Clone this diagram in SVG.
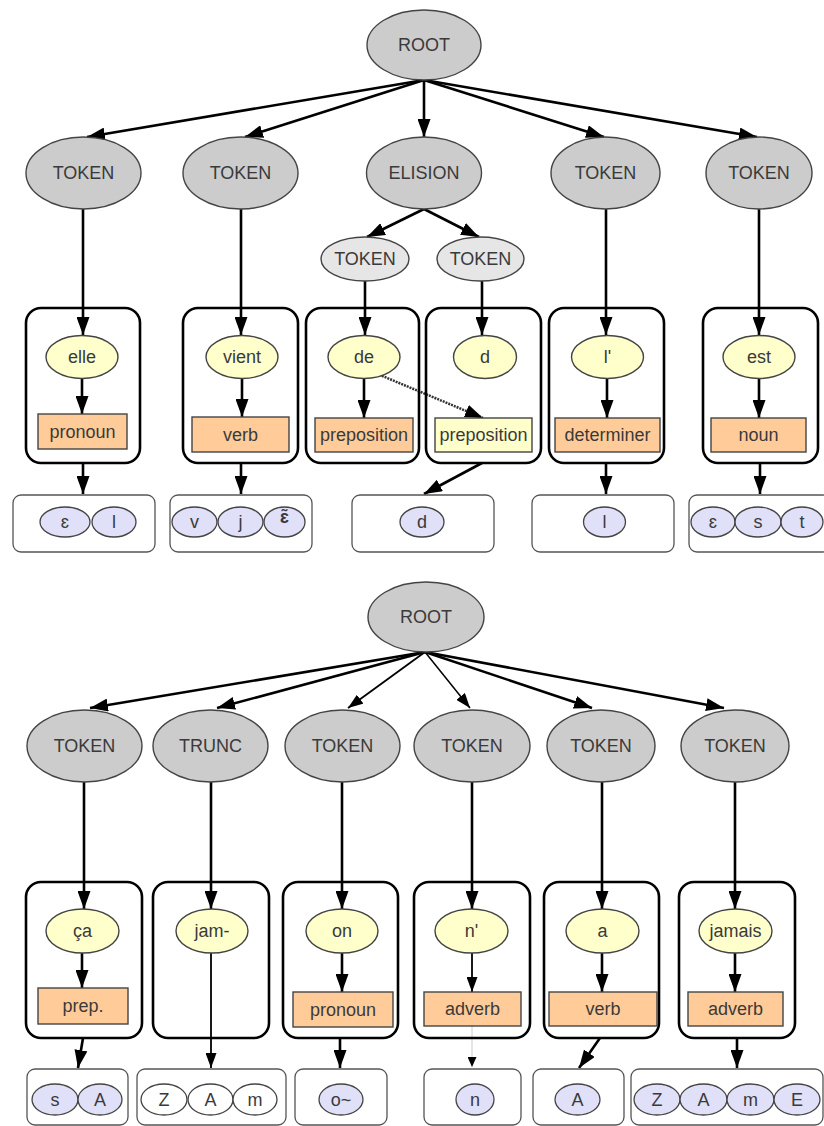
<svg xmlns="http://www.w3.org/2000/svg" width="824" height="1126" viewBox="0 0 824 1126">
<style>
text{font-family:"Liberation Sans",Arial,sans-serif;font-size:18px;fill:#3a3a3a;text-anchor:middle}
.g{fill:#cccccc;stroke:#444;stroke-width:1.4}
.sub{fill:#e6e6e6;stroke:#444;stroke-width:1.4}
.y{fill:#ffffcc;stroke:#444;stroke-width:1.4}
.o{fill:#ffcc99;stroke:#444;stroke-width:1.4}
.py{fill:#ffffcc;stroke:#444;stroke-width:1.4}
.box{fill:none;stroke:#000;stroke-width:2.6}
.pbox{fill:#fff;stroke:#555;stroke-width:1.3}
.ph{fill:#e0e0f8;stroke:#444;stroke-width:1.3}
.phw{fill:#fff;stroke:#444;stroke-width:1.3}
.e{fill:none;stroke:#000;stroke-width:2.6;marker-end:url(#ah)}
.e2{fill:none;stroke:#000;stroke-width:1.8;marker-end:url(#ahm)}
.dot{fill:none;stroke:#333;stroke-width:2.5;stroke-dasharray:2 1;marker-end:url(#ah)}
.faint{fill:none;stroke:#ccc;stroke-width:1;marker-end:url(#ahs)}
</style>
<defs>
<marker id="ah" markerUnits="userSpaceOnUse" markerWidth="18" markerHeight="13" refX="18" refY="6.5" orient="auto"><path d="M0,0 L18,6.5 L0,13 z" fill="#000"/></marker>
<marker id="ahm" markerUnits="userSpaceOnUse" markerWidth="15" markerHeight="11" refX="15" refY="5.5" orient="auto"><path d="M0,0 L15,5.5 L0,11 z" fill="#000"/></marker>
<marker id="ahs" markerUnits="userSpaceOnUse" markerWidth="10" markerHeight="9" refX="10" refY="4.5" orient="auto"><path d="M0,0 L10,4.5 L0,9 z" fill="#000"/></marker>
</defs>

<g id="connectors">
<path class="e" d="M424,80 L87,137"/>
<path class="e" d="M424,80 L245,137"/>
<path class="e" d="M424,80 L424,137"/>
<path class="e" d="M424,80 L604,137"/>
<path class="e" d="M424,80 L757,137"/>
<path class="e" d="M424,209 L367,237"/>
<path class="e" d="M424,209 L479,237"/>
<path class="e" d="M83,209 L83,335"/>
<path class="e" d="M241,209 L241,335"/>
<path class="e" d="M365,281 L365,335"/>
<path class="e" d="M482,281 L482,335"/>
<path class="e" d="M606,209 L606,335"/>
<path class="e" d="M759,209 L759,335"/>
<path class="e" d="M82,378 L82,414"/>
<path class="e" d="M242,378 L242,417"/>
<path class="e" d="M364,378 L364,418"/>
<path class="e" d="M607,378 L607,418"/>
<path class="e" d="M759,378 L759,418"/>
<path class="dot" d="M368,370 L483,418"/>
<path class="e" d="M83,463 L83,494"/>
<path class="e" d="M241,463 L241,494"/>
<path class="e" d="M482,463 L424,494"/>
<path class="e" d="M606,463 L606,494"/>
<path class="e" d="M760,463 L760,494"/>

<path class="e" d="M425,652 L90,708"/>
<path class="e" d="M425,652 L217,708"/>
<path class="e2" d="M425,652 L348,708"/>
<path class="e2" d="M425,652 L470,708" style="stroke-width:1.5"/>
<path class="e" d="M425,652 L592,708"/>
<path class="e" d="M425,652 L724,708"/>
<path class="e" d="M84,782 L84,909"/>
<path class="e" d="M211,782 L211,909"/>
<path class="e" d="M342,782 L342,909"/>
<path class="e" d="M472,782 L472,909"/>
<path class="e" d="M602,782 L602,909"/>
<path class="e" d="M735,782 L735,909"/>
<path class="e" d="M82,953 L82,988"/>
<path class="e2" d="M211,953 L211,1068"/>
<path class="e" d="M342,953 L342,992"/>
<path class="e2" d="M472,953 L472,992"/>
<path class="e" d="M602,953 L602,992"/>
<path class="e" d="M735,953 L735,992"/>
<path class="e" d="M83,1038 L78,1068"/>
<path class="e" d="M340,1038 L340,1068"/>
<path class="faint" d="M472,1026 L472,1067"/>
<path class="e" d="M600,1038 L579,1068"/>
<path class="e" d="M737,1038 L737,1068"/>
</g>

<!-- Top tree -->
<g id="root1"><ellipse class="g" cx="424" cy="45" rx="57" ry="35"/><text x="424" y="51">ROOT</text></g>
<g id="tok1"><ellipse class="g" cx="83.5" cy="173" rx="57.5" ry="36"/><text x="83.5" y="179">TOKEN</text></g>
<g id="tok2"><ellipse class="g" cx="240.5" cy="173" rx="57.5" ry="36"/><text x="240.5" y="179">TOKEN</text></g>
<g id="elision"><ellipse class="g" cx="424" cy="173" rx="57.5" ry="36"/><text x="424" y="179">ELISION</text></g>
<g id="tok4"><ellipse class="g" cx="605.5" cy="173" rx="54.5" ry="36"/><text x="605.5" y="179">TOKEN</text></g>
<g id="tok5"><ellipse class="g" cx="759" cy="173" rx="53" ry="36"/><text x="759" y="179">TOKEN</text></g>
<g id="sub1"><ellipse class="sub" cx="365" cy="259" rx="44" ry="22"/><text x="365" y="265">TOKEN</text></g>
<g id="sub2"><ellipse class="sub" cx="480.5" cy="259" rx="43.5" ry="22"/><text x="480.5" y="265">TOKEN</text></g>

<g id="w-elle">
<rect class="box" x="26" y="308" width="114" height="155" rx="15"/>
<ellipse class="y" cx="82" cy="357" rx="36" ry="21.5"/><text x="82" y="363">elle</text>
<rect class="o" x="38" y="414" width="89" height="35"/><text x="82.5" y="438">pronoun</text>
</g>
<g id="w-vient">
<rect class="box" x="183" y="308" width="115" height="155" rx="15"/>
<ellipse class="y" cx="242" cy="357" rx="36" ry="21.5"/><text x="242" y="363">vient</text>
<rect class="o" x="192" y="417" width="97" height="35"/><text x="240.5" y="441">verb</text>
</g>
<g id="w-de">
<rect class="box" x="306" y="308" width="113" height="155" rx="15"/>
<ellipse class="y" cx="364" cy="357" rx="36" ry="21.5"/><text x="364" y="363">de</text>
<rect class="o" x="315" y="418" width="98" height="34"/><text x="364" y="441">preposition</text>
</g>
<g id="w-d">
<rect class="box" x="426" y="308" width="115" height="155" rx="15"/>
<ellipse class="y" cx="485" cy="357" rx="31.5" ry="21.5"/><text x="485" y="363">d</text>
<rect class="py" x="435" y="418" width="97" height="34"/><text x="483.5" y="441">preposition</text>
</g>
<g id="w-l">
<rect class="box" x="549" y="308" width="115" height="155" rx="15"/>
<ellipse class="y" cx="607.5" cy="357" rx="36" ry="21.5"/><text x="607.5" y="363">l'</text>
<rect class="o" x="555" y="418" width="105" height="34"/><text x="607.5" y="441">determiner</text>
</g>
<g id="w-est">
<rect class="box" x="703" y="308" width="115" height="155" rx="15"/>
<ellipse class="y" cx="759" cy="357" rx="36" ry="21.5"/><text x="759" y="363">est</text>
<rect class="o" x="711" y="418" width="95" height="34"/><text x="758.5" y="441">noun</text>
</g>

<g id="p-elle">
<rect class="pbox" x="13" y="495" width="142" height="57" rx="8"/>
<ellipse class="ph" cx="65" cy="522" rx="25" ry="15"/><text x="65" y="528">ɛ</text>
<ellipse class="ph" cx="114" cy="522" rx="22" ry="15"/><text x="114" y="528">l</text>
</g>
<g id="p-vient">
<rect class="pbox" x="170" y="495" width="142" height="57" rx="8"/>
<ellipse class="ph" cx="194.5" cy="522" rx="22.5" ry="15"/><text x="194.5" y="528">v</text>
<ellipse class="ph" cx="240.5" cy="522" rx="22.5" ry="15"/><text x="240.5" y="528">j</text>
<ellipse class="ph" cx="284.5" cy="522" rx="20.5" ry="15"/><text x="284.5" y="523" style="font-weight:bold">ɛ̃</text>
</g>
<g id="p-d">
<rect class="pbox" x="352" y="495" width="142" height="57" rx="8"/>
<ellipse class="ph" cx="422" cy="522" rx="22" ry="15"/><text x="422" y="528">d</text>
</g>
<g id="p-l">
<rect class="pbox" x="532" y="495" width="142" height="57" rx="8"/>
<ellipse class="ph" cx="604.5" cy="522" rx="21" ry="15"/><text x="604.5" y="528">l</text>
</g>
<g id="p-est">
<rect class="pbox" x="689" y="495" width="142" height="57" rx="8"/>
<ellipse class="ph" cx="713" cy="522" rx="22" ry="15"/><text x="713" y="528">ɛ</text>
<ellipse class="ph" cx="758" cy="522" rx="23" ry="15"/><text x="758" y="528">s</text>
<ellipse class="ph" cx="802" cy="522" rx="21" ry="15"/><text x="802" y="528">t</text>
</g>

<!-- Bottom tree -->
<g id="root2"><ellipse class="g" cx="426" cy="617" rx="58" ry="35"/><text x="426" y="623">ROOT</text></g>
<g id="b-tok1"><ellipse class="g" cx="84.5" cy="746" rx="57.5" ry="36"/><text x="84.5" y="752">TOKEN</text></g>
<g id="b-trunc"><ellipse class="g" cx="210.5" cy="746" rx="57.5" ry="36"/><text x="210.5" y="752">TRUNC</text></g>
<g id="b-tok3"><ellipse class="g" cx="342.5" cy="746" rx="57.5" ry="36"/><text x="342.5" y="752">TOKEN</text></g>
<g id="b-tok4"><ellipse class="g" cx="472" cy="746" rx="58" ry="36"/><text x="472" y="752">TOKEN</text></g>
<g id="b-tok5"><ellipse class="g" cx="601" cy="746" rx="54" ry="36"/><text x="601" y="752">TOKEN</text></g>
<g id="b-tok6"><ellipse class="g" cx="735" cy="746" rx="54" ry="36"/><text x="735" y="752">TOKEN</text></g>

<g id="w-ca">
<rect class="box" x="26" y="882" width="116" height="156" rx="15"/>
<ellipse class="y" cx="82.5" cy="931" rx="36.5" ry="22"/><text x="82.5" y="937">ça</text>
<rect class="o" x="38" y="988" width="90" height="36"/><text x="83" y="1012">prep.</text>
</g>
<g id="w-jam">
<rect class="box" x="153" y="882" width="116" height="156" rx="15"/>
<ellipse class="y" cx="212" cy="931" rx="36" ry="22"/><text x="212" y="937">jam-</text>
</g>
<g id="w-on">
<rect class="box" x="283" y="882" width="115" height="156" rx="15"/>
<ellipse class="y" cx="342" cy="931" rx="36" ry="22"/><text x="342" y="937">on</text>
<rect class="o" x="293" y="992" width="100" height="35"/><text x="343" y="1016">pronoun</text>
</g>
<g id="w-n">
<rect class="box" x="414" y="882" width="116" height="156" rx="15"/>
<ellipse class="y" cx="471.5" cy="931" rx="36.5" ry="22"/><text x="471.5" y="937">n'</text>
<rect class="o" x="424" y="992" width="97" height="34"/><text x="472.5" y="1015">adverb</text>
</g>
<g id="w-a">
<rect class="box" x="544" y="882" width="115" height="156" rx="15"/>
<ellipse class="y" cx="602.5" cy="931" rx="36.5" ry="22"/><text x="602.5" y="937">a</text>
<rect class="o" x="549" y="992" width="108" height="34"/><text x="603" y="1015">verb</text>
</g>
<g id="w-jamais">
<rect class="box" x="679" y="882" width="116" height="156" rx="15"/>
<ellipse class="y" cx="735.5" cy="931" rx="36.5" ry="22"/><text x="735.5" y="937">jamais</text>
<rect class="o" x="688" y="992" width="95" height="34"/><text x="735.5" y="1015">adverb</text>
</g>

<g id="p-ca">
<rect class="pbox" x="27" y="1069" width="101" height="56" rx="8"/>
<ellipse class="ph" cx="55" cy="1099.5" rx="23" ry="15.5"/><text x="55" y="1105.5">s</text>
<ellipse class="ph" cx="100" cy="1099.5" rx="22" ry="15.5"/><text x="100" y="1105.5">A</text>
</g>
<g id="p-jam">
<rect class="pbox" x="137" y="1069" width="149" height="56" rx="8"/>
<ellipse class="phw" cx="164" cy="1099.5" rx="23" ry="15.5"/><text x="164" y="1105.5">Z</text>
<ellipse class="phw" cx="210.5" cy="1099.5" rx="22.5" ry="15.5"/><text x="210.5" y="1105.5">A</text>
<ellipse class="phw" cx="255" cy="1099.5" rx="22" ry="15.5"/><text x="255" y="1105.5">m</text>
</g>
<g id="p-on">
<rect class="pbox" x="295" y="1069" width="92" height="56" rx="8"/>
<ellipse class="ph" cx="341" cy="1099.5" rx="22" ry="15.5"/><text x="341" y="1105.5">o~</text>
</g>
<g id="p-n">
<rect class="pbox" x="424" y="1069" width="97" height="56" rx="8"/>
<ellipse class="ph" cx="475" cy="1099.5" rx="19" ry="15.5"/><text x="475" y="1105.5">n</text>
</g>
<g id="p-a">
<rect class="pbox" x="533" y="1069" width="91" height="56" rx="8"/>
<ellipse class="ph" cx="577.5" cy="1099.5" rx="22.5" ry="15.5"/><text x="577.5" y="1105.5">A</text>
</g>
<g id="p-jamais">
<rect class="pbox" x="631" y="1069" width="192" height="56" rx="8"/>
<ellipse class="ph" cx="657" cy="1099.5" rx="23" ry="15.5"/><text x="657" y="1105.5">Z</text>
<ellipse class="ph" cx="703.5" cy="1099.5" rx="23.5" ry="15.5"/><text x="703.5" y="1105.5">A</text>
<ellipse class="ph" cx="750.5" cy="1099.5" rx="23.5" ry="15.5"/><text x="750.5" y="1105.5">m</text>
<ellipse class="ph" cx="797" cy="1099.5" rx="23" ry="15.5"/><text x="797" y="1105.5">E</text>
</g>
</svg>
